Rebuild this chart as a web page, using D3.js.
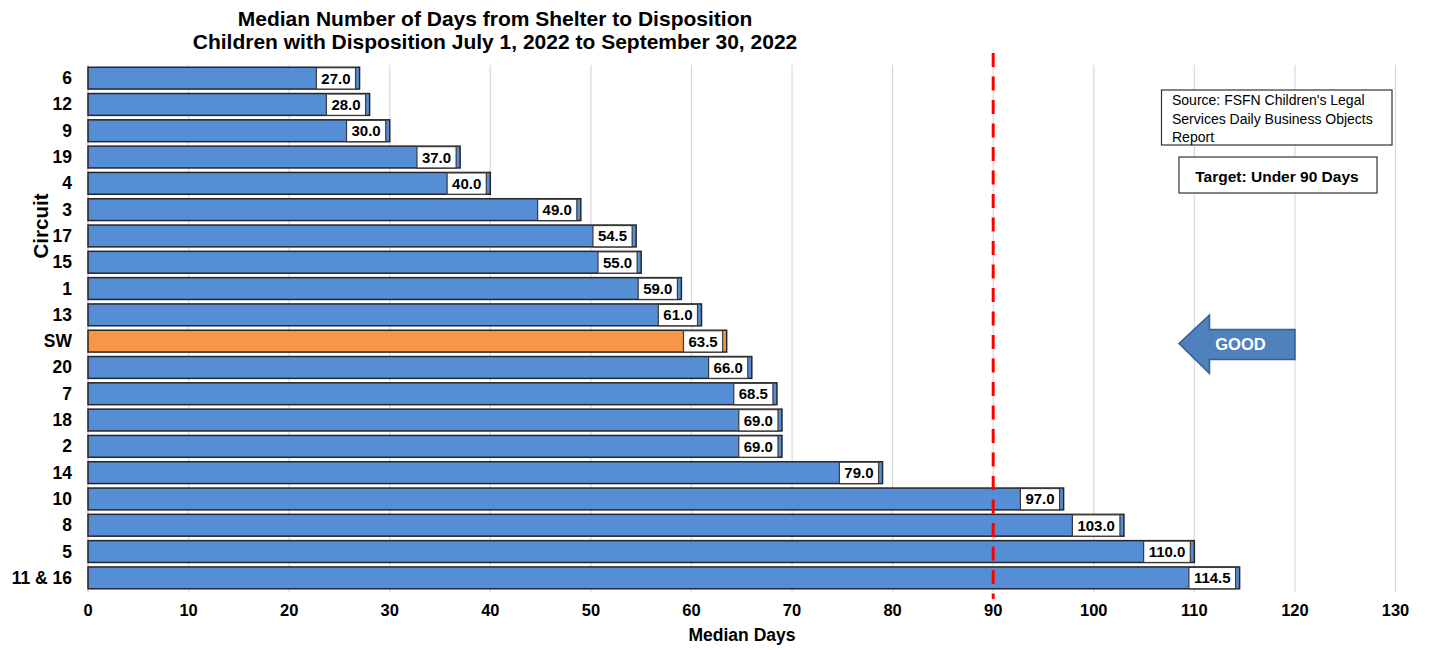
<!DOCTYPE html>
<html>
<head>
<meta charset="utf-8">
<script src="https://cdn.jsdelivr.net/npm/d3@7"></script>
<style>
  html, body { margin: 0; padding: 0; background: #fff; }
  svg { display: block; font-family: "Liberation Sans", Arial, sans-serif; }
</style>
</head>
<body>
<svg id="chart" width="1430" height="650"></svg>
<script>
const circuits = ["6","12","9","19","4","3","17","15","1","13","SW","20","7","18","2","14","10","8","5","11 & 16"];
const medianDays = [27,28,30,37,40,49,54.5,55,59,61,63.5,66,68.5,69,69,79,97,103,110,114.5];
const xTicks = [0,10,20,30,40,50,60,70,80,90,100,110,120,130];
const titleLines = ["Median Number of Days from Shelter to Disposition","Children with Disposition July 1, 2022 to September 30, 2022"];
const sourceLines = ["Source: FSFN Children's Legal","Services Daily Business Objects","Report"];
const targetText = "Target: Under 90 Days";
const targetValue = 90;
const highlight = "SW";

const svg = d3.select("#chart");
const x = d3.scaleLinear().domain([0,130]).range([88,1395.5]);
const y = d3.scaleBand().domain(circuits).range([65,591]).paddingInner(0.17).paddingOuter(0.085);

// gridlines
svg.append("g").selectAll("line").data(xTicks.filter(d => d > 0)).join("line")
  .attr("x1", d => x(d)).attr("x2", d => x(d))
  .attr("y1", 65).attr("y2", 592)
  .attr("stroke", "#d9d9d9").attr("stroke-width", 1.2);
// left axis line
svg.append("line").attr("x1", x(0)).attr("x2", x(0)).attr("y1", 65).attr("y2", 592)
  .attr("stroke", "#bfbfbf").attr("stroke-width", 1.2);

// x tick labels
svg.append("g").selectAll("text").data(xTicks).join("text")
  .attr("x", d => x(d)).attr("y", 616)
  .attr("text-anchor", "middle").attr("font-weight", "bold").attr("font-size", 16.5)
  .attr("fill", "#000").text(d => d);

// y labels
svg.append("g").selectAll("text").data(circuits).join("text")
  .attr("x", 72).attr("y", d => y(d) + y.bandwidth()/2 + 6)
  .attr("text-anchor", "end").attr("font-weight", "bold").attr("font-size", 17.5)
  .attr("fill", "#000").text(d => d);

// bars
const data = circuits.map((c, i) => ({c, v: medianDays[i]}));
svg.append("g").selectAll("rect").data(data).join("rect")
  .attr("x", x(0)).attr("y", d => y(d.c))
  .attr("width", d => x(d.v) - x(0)).attr("height", y.bandwidth())
  .attr("fill", d => d.c === highlight ? "#F79646" : "#558ED5")
  .attr("stroke", "#262626").attr("stroke-width", 1.5);

// red target line
svg.append("line").attr("x1", x(targetValue)).attr("x2", x(targetValue))
  .attr("y1", 53).attr("y2", 599)
  .attr("stroke", "#ff0000").attr("stroke-width", 3).attr("stroke-dasharray", "14,9.5");

// data labels
const lg = svg.append("g");
data.forEach(d => {
  const t = lg.append("text")
    .attr("font-weight", "bold").attr("font-size", 15).attr("fill", "#000")
    .attr("text-anchor", "middle").text(d.v.toFixed(1));
  const w = t.node().getComputedTextLength() + 10;
  const right = x(d.v) - 4;
  lg.insert("rect", "text")
    .attr("x", right - w).attr("y", y(d.c) + 0.5)
    .attr("width", w).attr("height", y.bandwidth() - 0.5)
    .attr("fill", "#fff").attr("stroke", "#3a3a3a").attr("stroke-width", 1.2);
  t.attr("x", right - w/2).attr("y", y(d.c) + y.bandwidth()/2 + 5.5);
});

// title
svg.append("g").selectAll("text").data(titleLines).join("text")
  .attr("x", 495).attr("y", (d,i) => 26 + i*22.5)
  .attr("text-anchor", "middle").attr("font-weight", "bold").attr("font-size", 21)
  .attr("fill", "#000").text(d => d);

// axis titles
svg.append("text").attr("transform", "translate(48,226) rotate(-90)")
  .attr("text-anchor", "middle").attr("font-weight", "bold").attr("font-size", 20.5)
  .attr("fill", "#000").text("Circuit");
svg.append("text").attr("x", 742).attr("y", 641)
  .attr("text-anchor", "middle").attr("font-weight", "bold").attr("font-size", 17.5)
  .attr("fill", "#000").text("Median Days");

// source box
svg.append("rect").attr("x", 1161.5).attr("y", 90).attr("width", 230.5).attr("height", 55)
  .attr("fill", "#fff").attr("stroke", "#333").attr("stroke-width", 1.2);
svg.append("g").selectAll("text").data(sourceLines).join("text")
  .attr("x", 1172).attr("y", (d,i) => 105 + i*18.5)
  .attr("font-size", 14).attr("fill", "#000").text(d => d);

// target box
svg.append("rect").attr("x", 1179).attr("y", 157).attr("width", 198).attr("height", 36)
  .attr("fill", "#fff").attr("stroke", "#333").attr("stroke-width", 1.2);
svg.append("text").attr("x", 1277).attr("y", 182)
  .attr("text-anchor", "middle").attr("font-weight", "bold").attr("font-size", 15.5)
  .attr("fill", "#000").text(targetText);

// GOOD arrow
const arrowPts = [[1179,343.5],[1209.5,315],[1209.5,329.5],[1295,329.5],[1295,359.5],[1209.5,359.5],[1209.5,373.5]];
svg.append("path").attr("d", d3.line()(arrowPts) + "Z")
  .attr("fill", "#4F81BD").attr("stroke", "#385D8A").attr("stroke-width", 1.5);
svg.append("text").attr("x", 1240.5).attr("y", 349.5)
  .attr("text-anchor", "middle").attr("font-weight", "bold").attr("font-size", 16.5)
  .attr("fill", "#fff").text("GOOD");
</script>
</body>
</html>
